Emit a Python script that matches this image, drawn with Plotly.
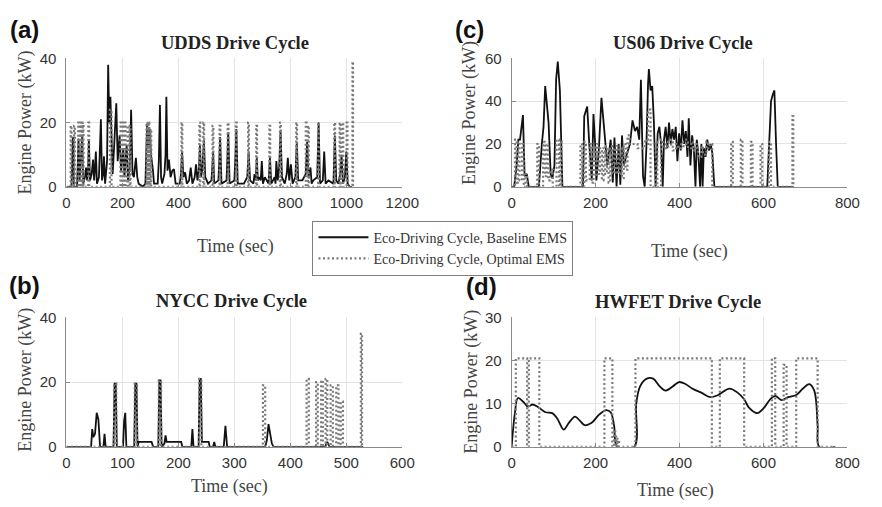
import plotly.graph_objects as go

# ---------------- data ----------------
# (a) UDDS baseline EMS (time s, engine power kW)
udds_base_t = [0, 18, 23, 27, 38, 43, 47, 52, 56, 60,
               66, 70, 74, 77, 80, 84, 90, 95, 99, 102,
               105, 109, 116, 123, 127, 131, 134, 138, 145, 149,
               153, 157, 161, 165, 170, 178, 183, 187, 190, 195,
               199, 203, 207, 211, 215, 220, 226, 231, 236, 241,
               248, 253, 258, 273, 282, 288, 292, 297, 302, 308,
               313, 326, 330, 334, 338, 342, 350, 354, 357, 361,
               366, 372, 378, 384, 390, 405, 409, 413, 418, 424,
               430, 438, 444, 450, 458, 463, 468, 473, 477, 481,
               486, 491, 496, 506, 518, 521, 524, 528, 543, 546,
               549, 554, 572, 575, 578, 583, 600, 604, 607, 612,
               634, 646, 651, 656, 668, 672, 676, 680, 684, 690,
               694, 698, 702, 709, 722, 727, 732, 738, 744, 747,
               750, 755, 760, 765, 770, 780, 787, 791, 796, 802,
               808, 818, 823, 828, 843, 855, 860, 865, 869, 872,
               876, 882, 896, 901, 906, 916, 921, 926, 936, 954,
               959, 964, 972, 978, 983, 988, 995, 1000, 1005, 1012,
               1020]
udds_base_kw = [0, 0, 15.5, 0, 0, 15, 2, 10, 15.5, 1,
                3, 6, 2, 5, 14.5, 2, 4, 8.5, 2, 6,
                11, 1, 3, 21, 2, 4, 9.5, 1, 8, 38,
                20, 28, 10, 4, 12, 26, 8, 12, 16, 5,
                9, 12, 3, 8, 13, 2, 6, 24, 4, 3,
                9, 3, 1, 0, 1, 19.5, 12, 18, 10, 6,
                1, 1, 8, 25.5, 3, 1, 4, 10, 28, 5,
                8.5, 3, 5, 5.5, 1, 1, 4, 11, 3, 4.5,
                1, 2, 6, 1, 3, 7, 2, 5, 13, 3,
                6, 14.5, 3, 1, 2, 6, 11, 1, 2, 8,
                15.5, 1, 2, 9, 17, 1, 2, 10, 18, 1,
                1, 3, 11, 2, 1, 4, 2, 9, 2, 3,
                2, 8, 1, 3, 1, 9, 1, 2, 3, 1,
                8, 2, 6, 17.5, 3, 1, 4, 9, 2, 7,
                1, 3, 14, 2, 2, 4, 14, 3, 5, 6,
                1, 2, 3, 20, 1, 2, 11, 1, 2, 1,
                16, 2, 1, 4, 10, 1, 3, 11, 1, 0,
                0]
# (a) UDDS optimal EMS: engine on/off pulses
udds_opt_start = [15, 27, 42, 50, 58, 78, 155, 193, 201, 208,
                  218, 226, 286, 293, 300, 411, 475, 489, 522, 547,
                  576, 605, 649, 678, 725, 763, 821, 855, 863, 899,
                  957, 976, 986, 1001, 1022]
udds_opt_end = [18, 30, 45, 53, 61, 81, 161, 196, 204, 211,
                221, 229, 289, 296, 303, 414, 478, 492, 525, 550,
                579, 608, 652, 681, 728, 766, 824, 858, 866, 902,
                960, 979, 989, 1004, 1024]
udds_opt_kw = [19, 19, 20, 20, 20, 20, 24, 20, 20, 20,
               19, 19, 20, 20, 18, 20, 20, 20, 19, 19,
               20, 20, 20, 19, 19, 20, 20, 20, 19, 20,
               20, 20, 20, 20, 39]

# (c) US06 baseline EMS
us06_base_t = [0, 6, 12, 16, 20, 24, 27, 31, 36, 41,
               65, 72, 76, 80, 84, 88, 93, 97, 102, 106,
               110, 115, 121, 170, 173, 177, 180, 185, 191, 195,
               199, 202, 208, 214, 219, 224, 228, 236, 241, 245,
               250, 255, 259, 263, 267, 274, 282, 288, 294, 299,
               304, 308, 313, 317, 321, 325, 327, 331, 335, 339,
               343, 348, 352, 356, 360, 363, 367, 371, 375, 379,
               383, 387, 391, 395, 399, 403, 407, 411, 415, 419,
               422, 426, 430, 434, 438, 441, 445, 449, 452, 455,
               458, 462, 466, 470, 474, 478, 483, 609, 614, 618,
               622, 626, 630, 634, 672]
us06_base_kw = [0, 0, 10, 22, 22, 28, 33.5, 5, 6, 0,
                0, 20, 28, 47, 39, 30, 6, 4, 10, 50,
                58.5, 45, 0, 0, 33, 36, 37.5, 20, 3, 34,
                20, 3, 18, 41.5, 31, 20, 10, 22, 2, 23,
                0, 20, 1, 24, 10, 15, 20, 31, 26, 28,
                22, 50, 5, 0, 18, 48, 55, 45, 47, 30,
                0, 25, 28, 20, 0, 22, 28, 18, 30, 20,
                27, 22, 28, 12, 25, 17, 31, 20, 26, 14,
                32, 10, 24, 18, 0, 22, 15, 0, 20, 0,
                18, 14, 22, 17, 20, 16, 0, 0, 20, 40,
                43, 45, 20, 0, 0]
# (c) US06 optimal EMS pulses (start, end, top, level after the pulse)
us06_opt_start = [8, 15, 25, 33, 61, 75, 83, 92, 107, 115,
                  164, 173, 186, 195, 203, 211, 219, 227, 235, 243,
                  251, 259, 267, 276, 296, 318, 325, 343, 356, 368,
                  380, 392, 404, 416, 428, 440, 452, 464, 472, 523,
                  546, 570, 593, 613, 669]
us06_opt_end = [12, 19, 29, 37, 65, 79, 87, 98, 113, 119,
                168, 177, 190, 199, 207, 215, 223, 231, 239, 247,
                255, 263, 271, 281, 300, 322, 331, 347, 360, 372,
                384, 396, 408, 420, 432, 444, 456, 468, 478, 527,
                550, 574, 597, 618, 671]
us06_opt_top = [22, 21, 20, 6, 20, 21, 20, 8, 22, 21,
                20, 21, 20, 19, 20, 18, 19, 18, 19, 18,
                19, 18, 20, 24, 20, 22, 36, 21, 22, 21,
                22, 20, 21, 22, 21, 20, 19, 21, 20, 21,
                22, 21, 20, 21, 33]
us06_opt_low = [2, 3, 0, 0, 0, 5, 3, 0, 0, 0,
                0, 3, 2, 5, 6, 3, 6, 2, 6, 6,
                6, 4, 8, 20, 18, 20, 0, 0, 18, 19,
                17, 18, 19, 18, 17, 14, 15, 18, 0, 0,
                0, 0, 0, 0, 0]

# (b) NYCC baseline EMS
nycc_base_t = [0, 44, 46, 48, 51, 54, 57, 60, 66, 68,
               70, 84, 86, 88, 90, 101, 103, 105, 107, 121,
               123, 125, 127, 129, 152, 155, 164, 166, 168, 170,
               175, 177, 179, 205, 207, 223, 225, 227, 236, 238,
               240, 242, 254, 256, 262, 264, 266, 281, 284, 287,
               355, 358, 361, 364, 367, 370, 462, 466, 470, 530]
nycc_base_kw = [0, 0, 5.5, 3, 4, 10.5, 8.5, 0, 0, 4,
                0, 0, 19.5, 19.5, 0, 0, 8, 10.5, 0, 0,
                19.5, 19.5, 0, 1.5, 1.5, 0, 0, 20.5, 20.5, 0,
                1, 3.5, 1.5, 1.5, 0, 0, 5.5, 0, 0, 21,
                21, 1.5, 1.5, 0, 0, 1.5, 0, 0, 6.5, 0,
                0, 2, 7, 4, 1, 0, 0, 1.5, 0, 0]
# (b) NYCC optimal EMS pulses
nycc_opt_start = [85, 122, 165, 237, 351, 429, 446, 455, 463, 472, 482, 490, 526]
nycc_opt_end = [89, 126, 169, 241, 355, 433, 449, 458, 466, 476, 486, 494, 528]
nycc_opt_kw = [19.5, 19.5, 20.5, 21, 19, 21, 20, 20.5, 21, 19, 19, 14, 35]

# (d) HWFET baseline EMS
hw_base_t = [0, 8, 15, 27, 39, 50, 66, 81, 97, 109,
             124, 136, 151, 163, 174, 190, 209, 225, 236, 244,
             252, 292, 297, 306, 322, 337, 353, 367, 384, 399,
             415, 430, 453, 473, 492, 519, 539, 554, 566, 585,
             601, 616, 628, 643, 659, 678, 694, 709, 721, 729,
             733, 771]
hw_base_kw = [0, 8, 11.3, 10.5, 9.3, 9.8, 9, 8, 7.8, 6.5,
              4, 5.5, 7, 6, 5, 5.5, 7.5, 8.5, 8, 5,
              0, 0, 10, 14, 15.8, 15.8, 14, 13, 14, 15,
              14.5, 13.5, 12.5, 11.5, 12, 13.5, 12.5, 11, 9, 7.8,
              9, 11, 11.8, 10.8, 11.5, 12, 13.5, 14.5, 13, 5,
              0, 0]
# (d) HWFET optimal EMS pulses
hw_opt_start = [10, 41, 221, 244, 249, 253, 295, 496, 620, 648, 678]
hw_opt_end = [37, 66, 240, 247, 252, 256, 477, 554, 628, 655, 729]
hw_opt_kw = [20.5, 20.5, 20.5, 3.5, 2.5, 1.5, 20.5, 20.5, 20.5, 19, 20.5]

series_names = ["Eco-Driving Cycle, Baseline EMS", "Eco-Driving Cycle, Optimal EMS"]
panel_titles = ["UDDS Drive Cycle", "US06 Drive Cycle", "NYCC Drive Cycle", "HWFET Drive Cycle"]
panel_letters = ["(a)", "(c)", "(b)", "(d)"]
x_ranges = [[0, 1200], [0, 800], [0, 600], [0, 800]]
x_dticks = [200, 200, 100, 200]
y_ranges = [[0, 40], [0, 60], [0, 40], [0, 30]]
y_dticks = [20, 20, 20, 10]
x_title = "Time (sec)"
y_title = "Engine Power (kW)"


def pulses(starts, ends, tops, lows=None, t_end=None):
    t, p = [0], [0]
    prev = 0
    for i, (s, e, h) in enumerate(zip(starts, ends, tops)):
        low = 0 if lows is None else lows[i]
        t += [s, s, e, e]
        p += [prev, h, h, low]
        prev = low
    if t_end is not None:
        t.append(t_end)
        p.append(prev)
    return t, p


W, H = 882, 507
def fx(px):
    return px / W
def fy(py):
    return 1 - py / H

BASE_STYLE = dict(color="#111111", width=1.8)
OPT_STYLE = dict(color="#7a7a7a", width=2.2, dash="2px,2.5px")

fig = go.Figure()

panels = [
    (udds_base_t, udds_base_kw, pulses(udds_opt_start, udds_opt_end, udds_opt_kw, t_end=1024), "linear"),
    (us06_base_t, us06_base_kw, pulses(us06_opt_start, us06_opt_end, us06_opt_top, us06_opt_low, t_end=672), "linear"),
    (nycc_base_t, nycc_base_kw, pulses(nycc_opt_start, nycc_opt_end, nycc_opt_kw, t_end=530), "linear"),
    (hw_base_t, hw_base_kw, pulses(hw_opt_start, hw_opt_end, hw_opt_kw, t_end=771), "spline"),
]

for i, (bt, bp, (ot, op), shape) in enumerate(panels):
    ax = "" if i == 0 else str(i + 1)
    fig.add_trace(go.Scatter(x=bt, y=bp, mode="lines", name=series_names[0],
                             line=dict(**BASE_STYLE, shape=shape),
                             showlegend=(i == 0), xaxis="x" + ax, yaxis="y" + ax))
    fig.add_trace(go.Scatter(x=ot, y=op, mode="lines", name=series_names[1],
                             line=OPT_STYLE, showlegend=(i == 0),
                             xaxis="x" + ax, yaxis="y" + ax))

# plot-area boxes in pixels: left, right, top, bottom
boxes = [(64, 408, 51, 184), (520, 864, 51, 184), (64, 408, 319, 453), (520, 864, 319, 453)]

axis_common = dict(showline=True, linecolor="#8a8a8a", linewidth=1, ticks="inside",
                   ticklen=4, tickcolor="#8a8a8a", showgrid=True, gridcolor="#e3e3e3",
                   gridwidth=1, zeroline=False, mirror=False,
                   tickfont=dict(family="Liberation Sans, Arial", size=15, color="#333333"))

layout = dict(width=W, height=H, margin=dict(l=0, r=0, t=0, b=0),
              paper_bgcolor="white", plot_bgcolor="white")
for i, (l, r, t, b) in enumerate(boxes):
    ax = "" if i == 0 else str(i + 1)
    layout["xaxis" + ax] = dict(axis_common, domain=[fx(l), fx(r)], range=x_ranges[i],
                                dtick=x_dticks[i], tick0=0, anchor="y" + ax,
                                ticklabelstandoff=2)
    layout["yaxis" + ax] = dict(axis_common, domain=[fy(b), fy(t)], range=y_ranges[i],
                                dtick=y_dticks[i], tick0=0, anchor="x" + ax,
                                ticklabelstandoff=6)
fig.update_layout(**layout)

ann = []
title_pos = [(237, 35), (696, 35), (233, 302), (690, 303)]
letter_pos = [(21, 21), (477, 21), (21, 286), (489, 287)]
xt_pos = [(237, 246), (702, 251), (231, 494), (688, 498)]
yt_pos = [(22, 117), (477, 108), (22, 383), (478, 386)]
for i in range(4):
    ann.append(dict(text="<b>%s</b>" % panel_titles[i], x=fx(title_pos[i][0]), y=fy(title_pos[i][1]),
                    xref="paper", yref="paper", showarrow=False, xanchor="center", yanchor="middle",
                    font=dict(family="Liberation Serif, Times New Roman", size=18.5, color="#222222")))
    ann.append(dict(text="<b>%s</b>" % panel_letters[i], x=fx(letter_pos[i][0]), y=fy(letter_pos[i][1]),
                    xref="paper", yref="paper", showarrow=False, xanchor="center", yanchor="middle",
                    font=dict(family="Liberation Sans, Arial", size=24, color="#111111")))
    ann.append(dict(text=x_title, x=fx(xt_pos[i][0]), y=fy(xt_pos[i][1]),
                    xref="paper", yref="paper", showarrow=False, xanchor="center", yanchor="middle",
                    font=dict(family="Liberation Serif, Times New Roman", size=18, color="#444444")))
    ann.append(dict(text=y_title, x=fx(yt_pos[i][0]), y=fy(yt_pos[i][1]), textangle=-90,
                    xref="paper", yref="paper", showarrow=False, xanchor="center", yanchor="middle",
                    font=dict(family="Liberation Serif, Times New Roman", size=18, color="#444444")))
fig.update_layout(annotations=ann)

fig.update_layout(legend=dict(x=fx(316), y=fy(219), xanchor="left", yanchor="top",
                              bgcolor="white", bordercolor="#7f7f7f", borderwidth=1,
                              font=dict(family="Liberation Serif, Times New Roman", size=14, color="#333333"),
                              itemwidth=50, tracegroupgap=0))

fig.write_html("out.html")
